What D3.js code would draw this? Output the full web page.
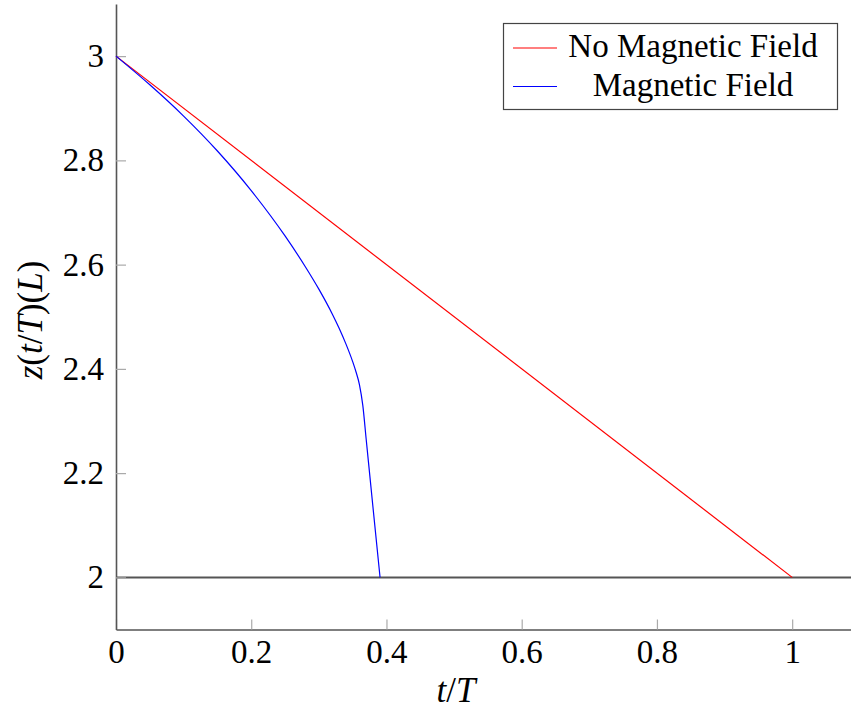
<!DOCTYPE html>
<html>
<head>
<meta charset="utf-8">
<script src="https://cdn.jsdelivr.net/npm/d3@7"></script>
<style>
  body { margin: 0; background: #fff; }
  svg { display: block; }
  text { font-family: "Liberation Serif", "DejaVu Serif", serif; }
</style>
</head>
<body>
<svg width="851" height="717"></svg>
<script>
// series: no magnetic field (straight fall)
const noFieldT = [0, 1];
const noFieldZ = [3, 2];

// series: magnetic field
const fieldT = [0, 0.05, 0.1, 0.15, 0.2, 0.25, 0.28, 0.3, 0.32, 0.33, 0.34, 0.35, 0.355, 0.36, 0.365, 0.37, 0.38, 0.3905];
const fieldZ = [3, 2.945, 2.885, 2.818, 2.742, 2.655, 2.596, 2.553, 2.505, 2.478, 2.448, 2.414, 2.394, 2.37, 2.33, 2.265, 2.135, 2.0];

const xTicks = [0, 0.2, 0.4, 0.6, 0.8, 1];
const yTicks = [2, 2.2, 2.4, 2.6, 2.8, 3];
const floorZ = 2;

const legendNames = ["No Magnetic Field", "Magnetic Field"];
const legendColors = ["red", "blue"];

const svg = d3.select("svg");
const width = +svg.attr("width");

const serif = "Liberation Serif, DejaVu Serif, serif";

const xScale = d3.scaleLinear().domain([0, 1.087]).range([116, width]);
const yScale = d3.scaleLinear().domain([1.9, 3.1]).range([629.5, 4]);

const axisColor = "#555";
const tickColor = "#aaa";

// horizontal line at z = 2
svg.append("line")
    .attr("x1", xScale(0))
    .attr("x2", width)
    .attr("y1", yScale(floorZ))
    .attr("y2", yScale(floorZ))
    .attr("stroke", "#555")
    .attr("stroke-width", 2);

// axes
const xAxis = svg.append("g")
    .attr("transform", `translate(0,${yScale.range()[0]})`)
    .call(d3.axisBottom(xScale)
        .tickValues(xTicks)
        .tickFormat(d => d3.format("")(d))
        .tickSizeInner(-10)
        .tickSizeOuter(0));

const yAxis = svg.append("g")
    .attr("transform", `translate(${xScale(0)},0)`)
    .call(d3.axisLeft(yScale)
        .tickValues(yTicks)
        .tickFormat(d => d3.format("")(d))
        .tickSizeInner(-10)
        .tickSizeOuter(0)
        .tickPadding(12));

[xAxis, yAxis].forEach(a => 
{
    a.attr("font-family", serif).attr("font-size", 33);
    a.select(".domain").attr("stroke", axisColor).attr("stroke-width", 1.6);
    a.selectAll(".tick line").attr("stroke", tickColor).attr("stroke-width", 1.2);
    a.selectAll(".tick text").attr("fill", "#000");
});
xAxis.selectAll(".tick text").attr("y", 33).attr("dy", null);

// lines
const line = d3.line()
    .x(d => xScale(d[0]))
    .y(d => yScale(d[1]));

svg.append("path")
    .datum(d3.zip(noFieldT, noFieldZ))
    .attr("fill", "none")
    .attr("stroke", "red")
    .attr("stroke-width", 1.2)
    .attr("d", line);

svg.append("path")
    .datum(d3.zip(fieldT, fieldZ))
    .attr("fill", "none")
    .attr("stroke", "blue")
    .attr("stroke-width", 1.2)
    .attr("d", line.curve(d3.curveMonotoneX));

// axis labels
const xLabel = svg.append("text")
    .attr("x", 456)
    .attr("y", 702)
    .attr("text-anchor", "middle")
    .attr("font-family", serif)
    .attr("font-size", 35);
xLabel.append("tspan").attr("font-style", "italic").text("t");
xLabel.append("tspan").text("/");
xLabel.append("tspan").attr("font-style", "italic").text("T");

const yLabel = svg.append("text")
    .attr("transform", "translate(42,320) rotate(-90)")
    .attr("text-anchor", "middle")
    .attr("font-family", serif)
    .attr("font-size", 35);
yLabel.append("tspan").attr("font-style", "italic").text("z");
yLabel.append("tspan").text("(");
yLabel.append("tspan").attr("font-style", "italic").text("t");
yLabel.append("tspan").text("/");
yLabel.append("tspan").attr("font-style", "italic").text("T");
yLabel.append("tspan").text(")(");
yLabel.append("tspan").attr("font-style", "italic").text("L");
yLabel.append("tspan").text(")");

// legend
const legend = svg.append("g");
legend.append("rect")
    .attr("x", 503.5)
    .attr("y", 23.5)
    .attr("width", 334)
    .attr("height", 86)
    .attr("fill", "#fff")
    .attr("stroke", "#444")
    .attr("stroke-width", 1.2);

legendNames.forEach((name, i) => 
{
    const y = 48 + i * 38.5;
    legend.append("line")
        .attr("x1", 513)
        .attr("x2", 557)
        .attr("y1", y)
        .attr("y2", y)
        .attr("stroke", legendColors[i])
        .attr("stroke-width", 1.2);
    legend.append("text")
        .attr("x", 693)
        .attr("y", y + 9)
        .attr("text-anchor", "middle")
        .attr("font-family", serif)
        .attr("font-size", 33)
        .text(name);
});
</script>
</body>
</html>
